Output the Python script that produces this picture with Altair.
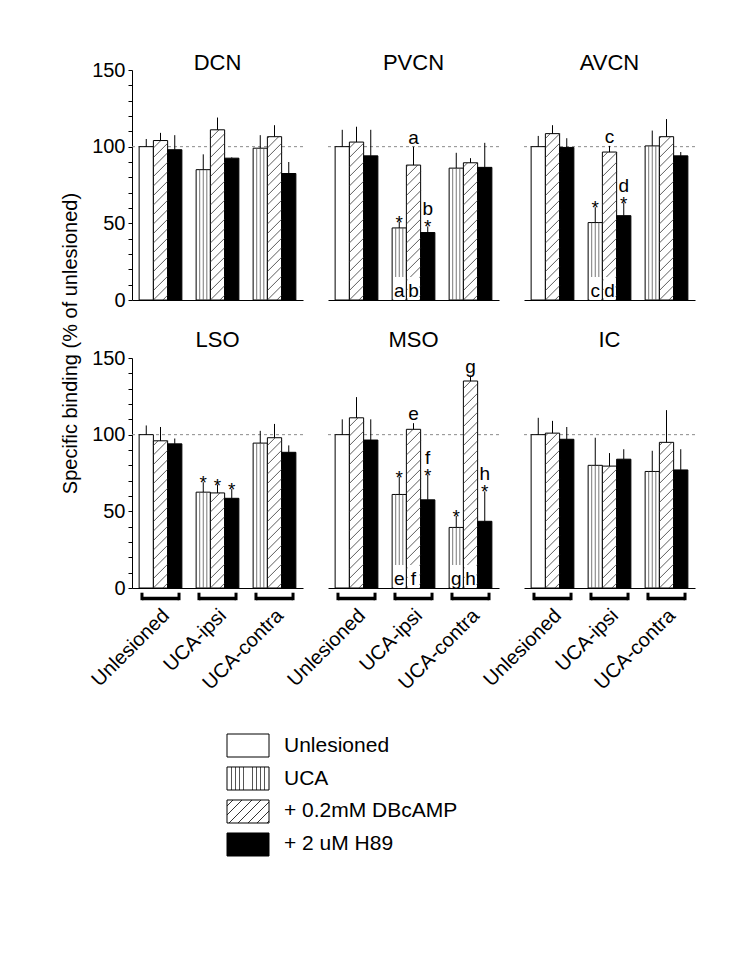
import math
import altair as alt
import pandas as pd

FONT = "Liberation Sans"

# ---------------- data ----------------
PANELS = ["DCN", "PVCN", "AVCN", "LSO", "MSO", "IC"]
GROUPS = ["Unlesioned", "UCA-ipsi", "UCA-contra"]
TREATMENTS = ["Unlesioned", "UCA", "+ 0.2mM DBcAMP", "+ 2 uM H89"]
Y_TITLE = "Specific binding (% of unlesioned)"

# means, per panel: [Unlesioned x3, UCA-ipsi x3, UCA-contra x3]
# (control/UCA, +DBcAMP, +H89 inside each group)
DCN_MEAN = [100, 104, 98, 85, 111, 92.5, 99, 106.5, 82.5]
PVCN_MEAN = [100, 103, 94, 47, 88, 44, 86, 89.5, 86.5]
AVCN_MEAN = [100, 108.5, 99.5, 50.5, 96.5, 55, 100.5, 106.5, 94]
LSO_MEAN = [100, 96, 94, 62.5, 62, 58.5, 94.5, 98, 88.5]
MSO_MEAN = [100, 111, 96.5, 61, 103.5, 57.5, 39.5, 135, 43.5]
IC_MEAN = [100, 101, 97, 80, 79.5, 84, 76, 95, 77]

DCN_ERR = [5, 5, 9.5, 10, 8, 0.5, 8.5, 7.5, 7.5]
PVCN_ERR = [11, 10, 17, 4, 12, 4, 10, 3, 16]
AVCN_ERR = [7, 5.5, 6, 10, 4, 8.5, 10, 11.5, 2.5]
LSO_ERR = [6, 9, 3.5, 6.5, 5.5, 6, 8, 9, 4.5]
MSO_ERR = [10, 13.5, 13.5, 11.5, 4, 16.5, 7.5, 3.5, 19.5]
IC_ERR = [11, 8, 8, 18, 8.5, 6.5, 13.5, 21, 13.5]

MEANS = dict(zip(PANELS, [DCN_MEAN, PVCN_MEAN, AVCN_MEAN, LSO_MEAN, MSO_MEAN, IC_MEAN]))
ERRS = dict(zip(PANELS, [DCN_ERR, PVCN_ERR, AVCN_ERR, LSO_ERR, MSO_ERR, IC_ERR]))

# significance marks: (panel, group index, bar index)
STARS = [("PVCN", 1, 0), ("PVCN", 1, 2), ("AVCN", 1, 0), ("AVCN", 1, 2),
         ("LSO", 1, 0), ("LSO", 1, 1), ("LSO", 1, 2),
         ("MSO", 1, 0), ("MSO", 1, 2), ("MSO", 2, 0), ("MSO", 2, 2)]
# letters above bars: (panel, group, bar, letter)
TOP_LETTERS = [("PVCN", 1, 1, "a"), ("PVCN", 1, 2, "b"),
               ("AVCN", 1, 1, "c"), ("AVCN", 1, 2, "d"),
               ("MSO", 1, 1, "e"), ("MSO", 1, 2, "f"),
               ("MSO", 2, 1, "g"), ("MSO", 2, 2, "h")]
# letters at the foot of bars
BOTTOM_LETTERS = [("PVCN", 1, 0, "a"), ("PVCN", 1, 1, "b"),
                  ("AVCN", 1, 0, "c"), ("AVCN", 1, 1, "d"),
                  ("MSO", 1, 0, "e"), ("MSO", 1, 1, "f"),
                  ("MSO", 2, 0, "g"), ("MSO", 2, 1, "h")]

# ---------------- geometry / style ----------------
W, H = 171, 230
Y_MAX = 150
PX_X = W / len(GROUPS)
PX_Y = H / Y_MAX
BAR = 0.25
PAD = (1 - 3 * BAR) / 2
HATCH_STEP = 9.5  # px
FS = 19
FS_TICK = 20
FS_XLAB = 20
FS_TITLE = 22
FS_LEGEND = 21


def bar_table(panel):
    rows = []
    for gi, g in enumerate(GROUPS):
        for si in range(3):
            k = gi * 3 + si
            if si == 0:
                t = TREATMENTS[0] if gi == 0 else TREATMENTS[1]
            else:
                t = TREATMENTS[si + 1]
            x0 = gi + PAD + si * BAR
            v = MEANS[panel][k]
            e = ERRS[panel][k]
            rows.append(dict(group=g, gi=gi, slot=si, treatment=t, x0=x0,
                             x1=x0 + BAR, xc=x0 + BAR / 2, value=v,
                             top=v + e, zero=0))
    return pd.DataFrame(rows)


def stripe_table(bars):
    rows = []
    for r in bars[bars.treatment == TREATMENTS[1]].itertuples():
        for k in (1, 2, 3):
            rows.append(dict(sx=r.x0 + BAR * k / 4, sy=r.value, zero=0))
    return pd.DataFrame(rows)


def hatch_table(bars):
    rows = []
    w = BAR * PX_X
    for r in bars[bars.treatment == TREATMENTS[2]].itertuples():
        h = r.value * PX_Y
        c = -math.floor(w / HATCH_STEP) * HATCH_STEP
        while c < h:
            xa = max(0.0, -c)
            xb = min(w, h - c)
            if xb > xa:
                rows.append(dict(hx0=r.x0 + xa / PX_X, hx1=r.x0 + xb / PX_X,
                                 hy0=(xa + c) / PX_Y, hy1=(xb + c) / PX_Y))
            c += HATCH_STEP
    return pd.DataFrame(rows)


def pick(bars, panel, spec):
    rows = []
    for item in spec:
        if item[0] != panel:
            continue
        r = bars[(bars.gi == item[1]) & (bars.slot == item[2])].iloc[0]
        d = dict(xc=r.xc, top=r.top, x0=r.x0, x1=r.x1, zero=0)
        if len(item) > 3:
            d["letter"] = item[3]
        d["star"] = any(s[0] == panel and s[1] == item[1] and s[2] == item[2] for s in STARS)
        rows.append(d)
    return pd.DataFrame(rows)


def panel(name, row, col):
    bars = bar_table(name)
    xscale = alt.Scale(domain=[0, 3], nice=False, zero=False)
    yscale = alt.Scale(domain=[0, Y_MAX], nice=False, zero=True)
    label_expr = "[" + ",".join("'%s'" % g for g in GROUPS) + "][floor(datum.value)]"
    xaxis = alt.Axis(values=[0.5, 1.5, 2.5], labels=(row == 1), ticks=False, grid=False,
                     title=None, domain=True, domainColor="black", domainWidth=1,
                     labelExpr=label_expr, labelAngle=315, labelAlign="right",
                     labelBaseline="top", labelPadding=17, labelOffset=-2,
                     labelOverlap=False, labelFontSize=FS_XLAB,
                     labelFont=FONT, labelColor="black")
    if col == 0:
        yax = dict(values=list(range(0, Y_MAX + 1, 10)), grid=False,
                   labelExpr="datum.value % 50 === 0 ? datum.label : ''",
                   tickSize=4, tickColor="black", domainColor="black",
                   labelFontSize=FS_TICK, labelFont=FONT, labelColor="black",
                   labelPadding=3)
        if row == 0:
            yax.update(title=Y_TITLE, titleX=-62, titleY=273, titleFontSize=20,
                       titleFont=FONT, titleFontWeight="normal", titleColor="black",
                       titleAngle=270, titleAlign="center", titleBaseline="middle")
        else:
            yax.update(title=None)
        yaxis = alt.Axis(**yax)
    else:
        yaxis = None

    def X(f):
        return alt.X(f + ":Q", scale=xscale, axis=xaxis)

    def Y(f):
        return alt.Y(f + ":Q", scale=yscale, axis=yaxis)

    layers = []
    layers.append(alt.Chart(pd.DataFrame({"ref": [100]})).mark_rule(
        color="#8a8a8a", strokeDash=[3, 3], strokeWidth=1).encode(y=Y("ref")))
    layers.append(alt.Chart(bars).mark_rect(stroke="black", strokeWidth=1).encode(
        x=X("x0"), x2="x1", y=Y("value"), y2="zero",
        fill=alt.Fill("treatment:N", scale=alt.Scale(domain=TREATMENTS,
                      range=["white", "white", "white", "black"]), legend=None)))
    layers.append(alt.Chart(stripe_table(bars)).mark_rule(color="#555555", strokeWidth=0.8).encode(
        x=X("sx"), y=Y("sy"), y2="zero"))
    layers.append(alt.Chart(hatch_table(bars)).mark_rule(color="#333333", strokeWidth=0.8).encode(
        x=X("hx0"), x2="hx1", y=Y("hy0"), y2="hy1"))
    bl = pick(bars, name, BOTTOM_LETTERS)
    if len(bl):
        bl["bx0"] = bl.x0 + 1.2 / PX_X
        bl["bx1"] = bl.x1 - 1.2 / PX_X
        layers.append(alt.Chart(bl).mark_rect(fill="white").encode(
            x=X("bx0"), x2="bx1", y=Y("zero"), y2=alt.value(H - 23)))
        layers.append(alt.Chart(bl).mark_text(fontSize=FS, font=FONT, baseline="alphabetic",
                                              dy=-3, color="black").encode(
            x=X("xc"), y=Y("zero"), text="letter:N"))
    layers.append(alt.Chart(bars).mark_rule(color="black", strokeWidth=1).encode(
        x=X("xc"), y=Y("value"), y2="top"))
    st = pick(bars, name, [s for s in STARS])
    if len(st):
        layers.append(alt.Chart(st).mark_text(text="*", fontSize=FS, font=FONT,
                                              baseline="alphabetic", dy=7, color="black").encode(
            x=X("xc"), y=Y("top")))
    tl = pick(bars, name, TOP_LETTERS)
    if len(tl):
        alone = tl[~tl.star]
        stacked = tl[tl.star]
        if len(alone):
            layers.append(alt.Chart(alone).mark_text(fontSize=FS, font=FONT, baseline="alphabetic",
                                                     dy=-3, color="black").encode(
                x=X("xc"), y=Y("top"), text="letter:N"))
        if len(stacked):
            layers.append(alt.Chart(stacked).mark_text(fontSize=FS, font=FONT, baseline="alphabetic",
                                                       dy=-11, color="black").encode(
                x=X("xc"), y=Y("top"), text="letter:N"))
    if row == 1:
        br = pd.DataFrame({"xa": [g + 0.175 for g in range(3)],
                           "xb": [g + 0.825 for g in range(3)]})
        layers.append(alt.Chart(br).mark_rule(color="black", strokeWidth=3.5).encode(
            x=X("xa"), x2="xb", y=alt.value(H + 10.5)))
        layers.append(alt.Chart(br).mark_rule(color="black", strokeWidth=3).encode(
            x=X("xa"), y=alt.value(H + 4.7), y2=alt.value(H + 12.2)))
        layers.append(alt.Chart(br).mark_rule(color="black", strokeWidth=3).encode(
            x=X("xb"), y=alt.value(H + 4.7), y2=alt.value(H + 12.2)))

    off = (-22 if row == 0 else -11) - (10 if col == 0 else 0)
    title = alt.TitleParams(text=name, fontSize=FS_TITLE, font=FONT, fontWeight="normal",
                            color="black", anchor="middle", baseline="alphabetic",
                            offset=off)
    return alt.layer(*layers).properties(width=W, height=H, title=title)


def stops_vertical(n_lines, hw, color):
    stops = [alt.GradientStop(color="white", offset=0)]
    for i in range(1, n_lines + 1):
        p = i / (n_lines + 1)
        stops += [alt.GradientStop(color="white", offset=p - hw),
                  alt.GradientStop(color=color, offset=p - hw),
                  alt.GradientStop(color=color, offset=p + hw),
                  alt.GradientStop(color="white", offset=p + hw)]
    stops.append(alt.GradientStop(color="white", offset=1))
    return stops


def legend_chart():
    bw, bh = 42, 23
    # vertical stripes
    vgrad = alt.LinearGradient(gradient="linear", x1=0, x2=1, y1=0, y2=0,
                               stops=stops_vertical(9, 0.4 / bw, "#555555"))
    # diagonal "/" hatch, objectBoundingBox corrected for box aspect
    t = (1 / bh + 1 / bw) / (1 / bh ** 2 + 1 / bw ** 2)
    L = (bw + bh) / math.sqrt(2)
    s = HATCH_STEP / math.sqrt(2)
    hw = 0.45 / L
    hstops = [alt.GradientStop(color="white", offset=0)]
    p = s * 0.6
    while p < L - 1:
        o = p / L
        hstops += [alt.GradientStop(color="white", offset=o - hw),
                   alt.GradientStop(color="#333333", offset=o - hw),
                   alt.GradientStop(color="#333333", offset=o + hw),
                   alt.GradientStop(color="white", offset=o + hw)]
        p += s
    hstops.append(alt.GradientStop(color="white", offset=1))
    hgrad = alt.LinearGradient(gradient="linear", x1=0, y1=0, x2=t / bh, y2=t / bw,
                               stops=hstops)
    fills = ["white", vgrad, hgrad, "black"]
    ly = alt.Y("label:N", sort=TREATMENTS,
               scale=alt.Scale(domain=TREATMENTS, paddingInner=0.303, paddingOuter=0,
                               range=[88, 210]),
               axis=None)
    layers = []
    for lab, f in zip(TREATMENTS, fills):
        layers.append(alt.Chart(pd.DataFrame({"label": [lab]})).mark_rect(
            fill=f, stroke="black", strokeWidth=1).encode(
            x=alt.value(95), x2=alt.value(95 + bw), y=ly))
    layers.append(alt.Chart(pd.DataFrame({"label": TREATMENTS})).mark_text(
        align="left", baseline="middle", fontSize=FS_LEGEND, font=FONT, color="black").encode(
        x=alt.value(152), y=ly, text="label:N"))
    return alt.layer(*layers).properties(width=W, height=210)


cells = [panel(n, i // 3, i % 3) for i, n in enumerate(PANELS)]
cells.append(legend_chart())

chart = alt.concat(*cells, columns=3, spacing={"row": 58, "column": 25},
                   bounds="flush").properties(
    padding={"left": 52, "top": 44, "right": 5, "bottom": 5}
).configure_view(stroke=None)

chart.save("out.html", embed_options={"renderer": "svg", "actions": False})
